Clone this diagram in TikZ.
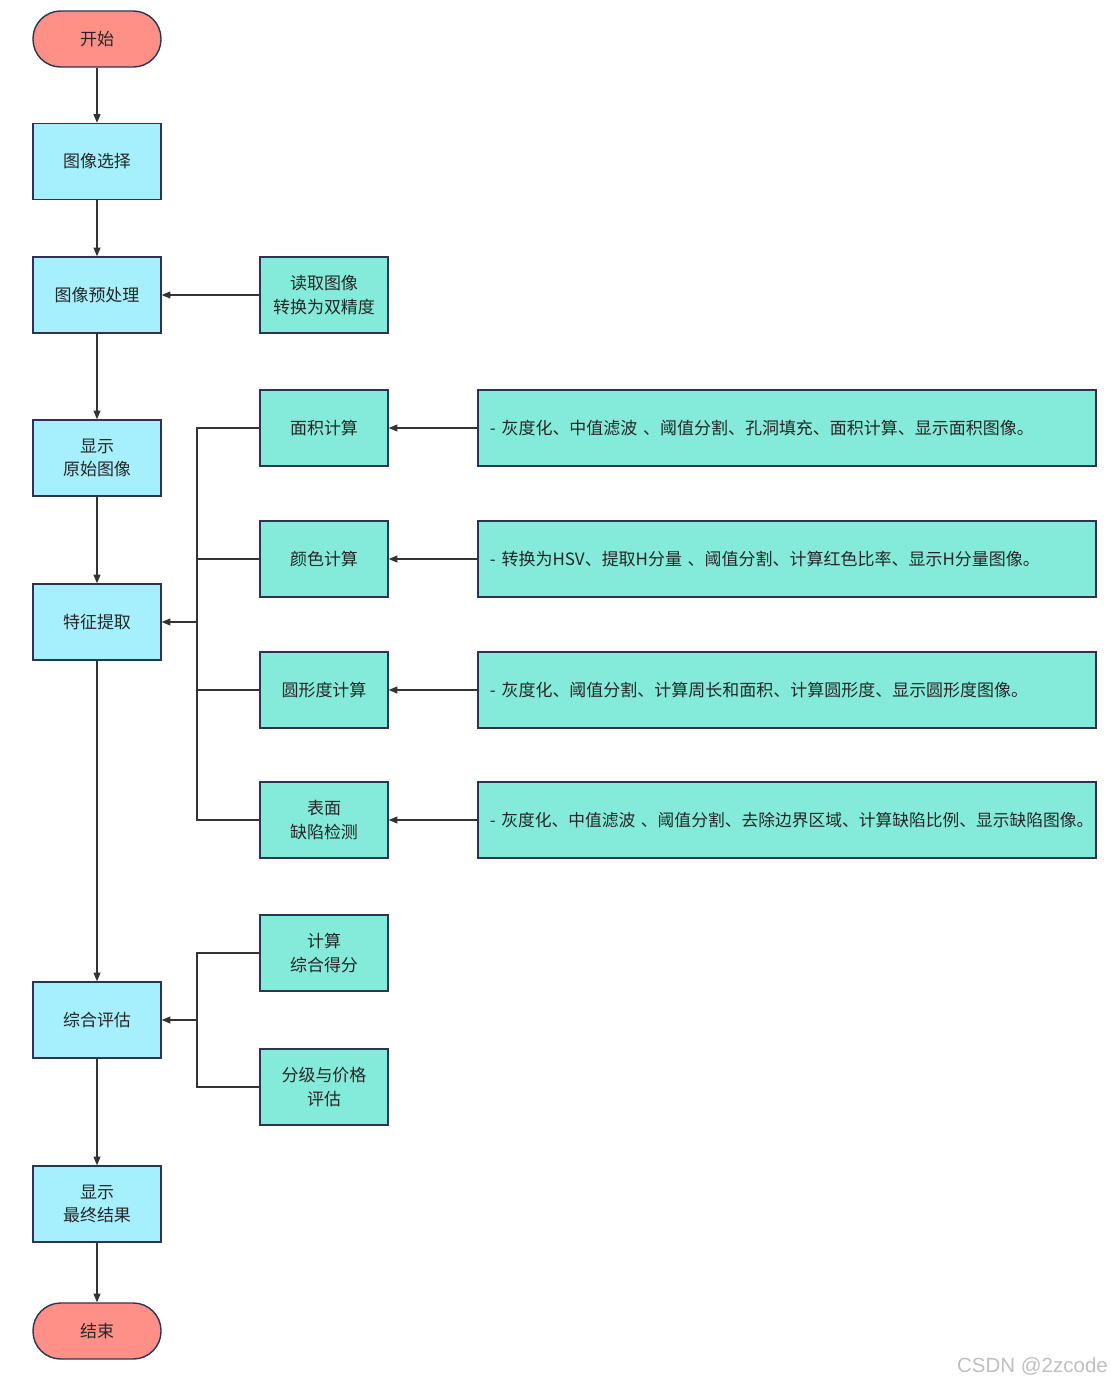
\documentclass[tikz,border=0pt]{standalone}
\usepackage{fontspec}
\setmainfont{Noto Sans CJK SC}
\newfontfamily\marksans{Liberation Sans}
\usetikzlibrary{arrows.meta}

\definecolor{stepblue}{HTML}{A6F0FE}
\definecolor{subgreen}{HTML}{84EBDB}
\definecolor{termred}{HTML}{FF9088}
\definecolor{edgenavy}{HTML}{2B3553}
\definecolor{linegray}{HTML}{333333}

\begin{document}
\begin{tikzpicture}[x=0.03cm, y=-0.03cm,
    every node/.style={font=\fontsize{14.5}{20}\selectfont, text=black!85},
    box/.style={draw=edgenavy, line width=1.2pt, minimum width=3.84cm, minimum height=2.28cm, align=center, inner sep=2pt},
    mainbox/.style={box, fill=stepblue},
    subbox/.style={box, fill=subgreen},
    longbox/.style={box, fill=subgreen, minimum width=18.54cm, text width=17.82cm, inner xsep=0.36cm, align=left},
    terminal/.style={draw=edgenavy, line width=1.2pt, fill=termred, rounded corners=0.83cm, minimum width=3.84cm, minimum height=1.68cm},
    link/.style={draw=linegray, line width=0.9pt},
    arr/.style={link, -{Triangle[length=2.6mm, width=2.1mm]}}]
        \useasboundingbox (0,0) rectangle (1116,1386);

        % main column
        \node[terminal] (start) at (97,39) {开始};
        \node[mainbox] (select) at (97,161.5) {图像选择};
        \node[mainbox] (prep) at (97,295) {图像预处理};
        \node[mainbox] (orig) at (97,458) {显示\\原始图像};
        \node[mainbox] (feat) at (97,622) {特征提取};
        \node[mainbox] (eval) at (97,1020) {综合评估};
        \node[mainbox] (final) at (97,1204) {显示\\最终结果};
        \node[terminal] (stop) at (97,1331) {结束};

        % sub steps
        \node[subbox] (read) at (324,295) {读取图像\\转换为双精度};
        \node[subbox] (area) at (324,428) {面积计算};
        \node[subbox] (color) at (324,559) {颜色计算};
        \node[subbox] (round) at (324,690) {圆形度计算};
        \node[subbox] (defect) at (324,820) {表面\\缺陷检测};
        \node[subbox] (score) at (324,953) {计算\\综合得分};
        \node[subbox] (grade) at (324,1087) {分级与价格\\评估};

        % details
        \node[longbox] (areainfo) at (787,428) {- 灰度化、中值滤波 、阈值分割、孔洞填充、面积计算、显示面积图像。};
        \node[longbox] (colorinfo) at (787,559) {- 转换为HSV、提取H分量 、阈值分割、计算红色比率、显示H分量图像。};
        \node[longbox] (roundinfo) at (787,690) {- 灰度化、阈值分割、计算周长和面积、计算圆形度、显示圆形度图像。};
        \node[longbox, font=\fontsize{14.3}{20}\selectfont] (defectinfo) at (787,820) {- 灰度化、中值滤波 、阈值分割、去除边界区域、计算缺陷比例、显示缺陷图像。};

        \node[font=\marksans\fontsize{17.5}{20}\selectfont, text=black!25, anchor=east] (mark) at (1112,1366) {CSDN @2zcode};

        \coordinate (bus) at (197,0);

        \path (start) edge[arr] (select);
        \path (select) edge[arr] (prep);
        \path (prep) edge[arr] (orig);
        \path (orig) edge[arr] (feat);
        \path (feat) edge[arr] (eval);
        \path (eval) edge[arr] (final);
        \path (final) edge[arr] (stop);
        \path (read) edge[arr] (prep);

        \path (areainfo) edge[arr] (area);
        \path (colorinfo) edge[arr] (color);
        \path (roundinfo) edge[arr] (round);
        \path (defectinfo) edge[arr] (defect);

        \draw[link] (area.west) -- (area.west -| bus) -- (defect.west -| bus) -- (defect.west);
        \draw[link] (color.west) -- (color.west -| bus);
        \draw[link] (round.west) -- (round.west -| bus);
        \draw[arr] (feat.east -| bus) -- (feat.east);

        \draw[link] (score.west) -- (score.west -| bus) -- (grade.west -| bus) -- (grade.west);
        \draw[arr] (eval.east -| bus) -- (eval.east);
      \end{tikzpicture}
\end{document}
